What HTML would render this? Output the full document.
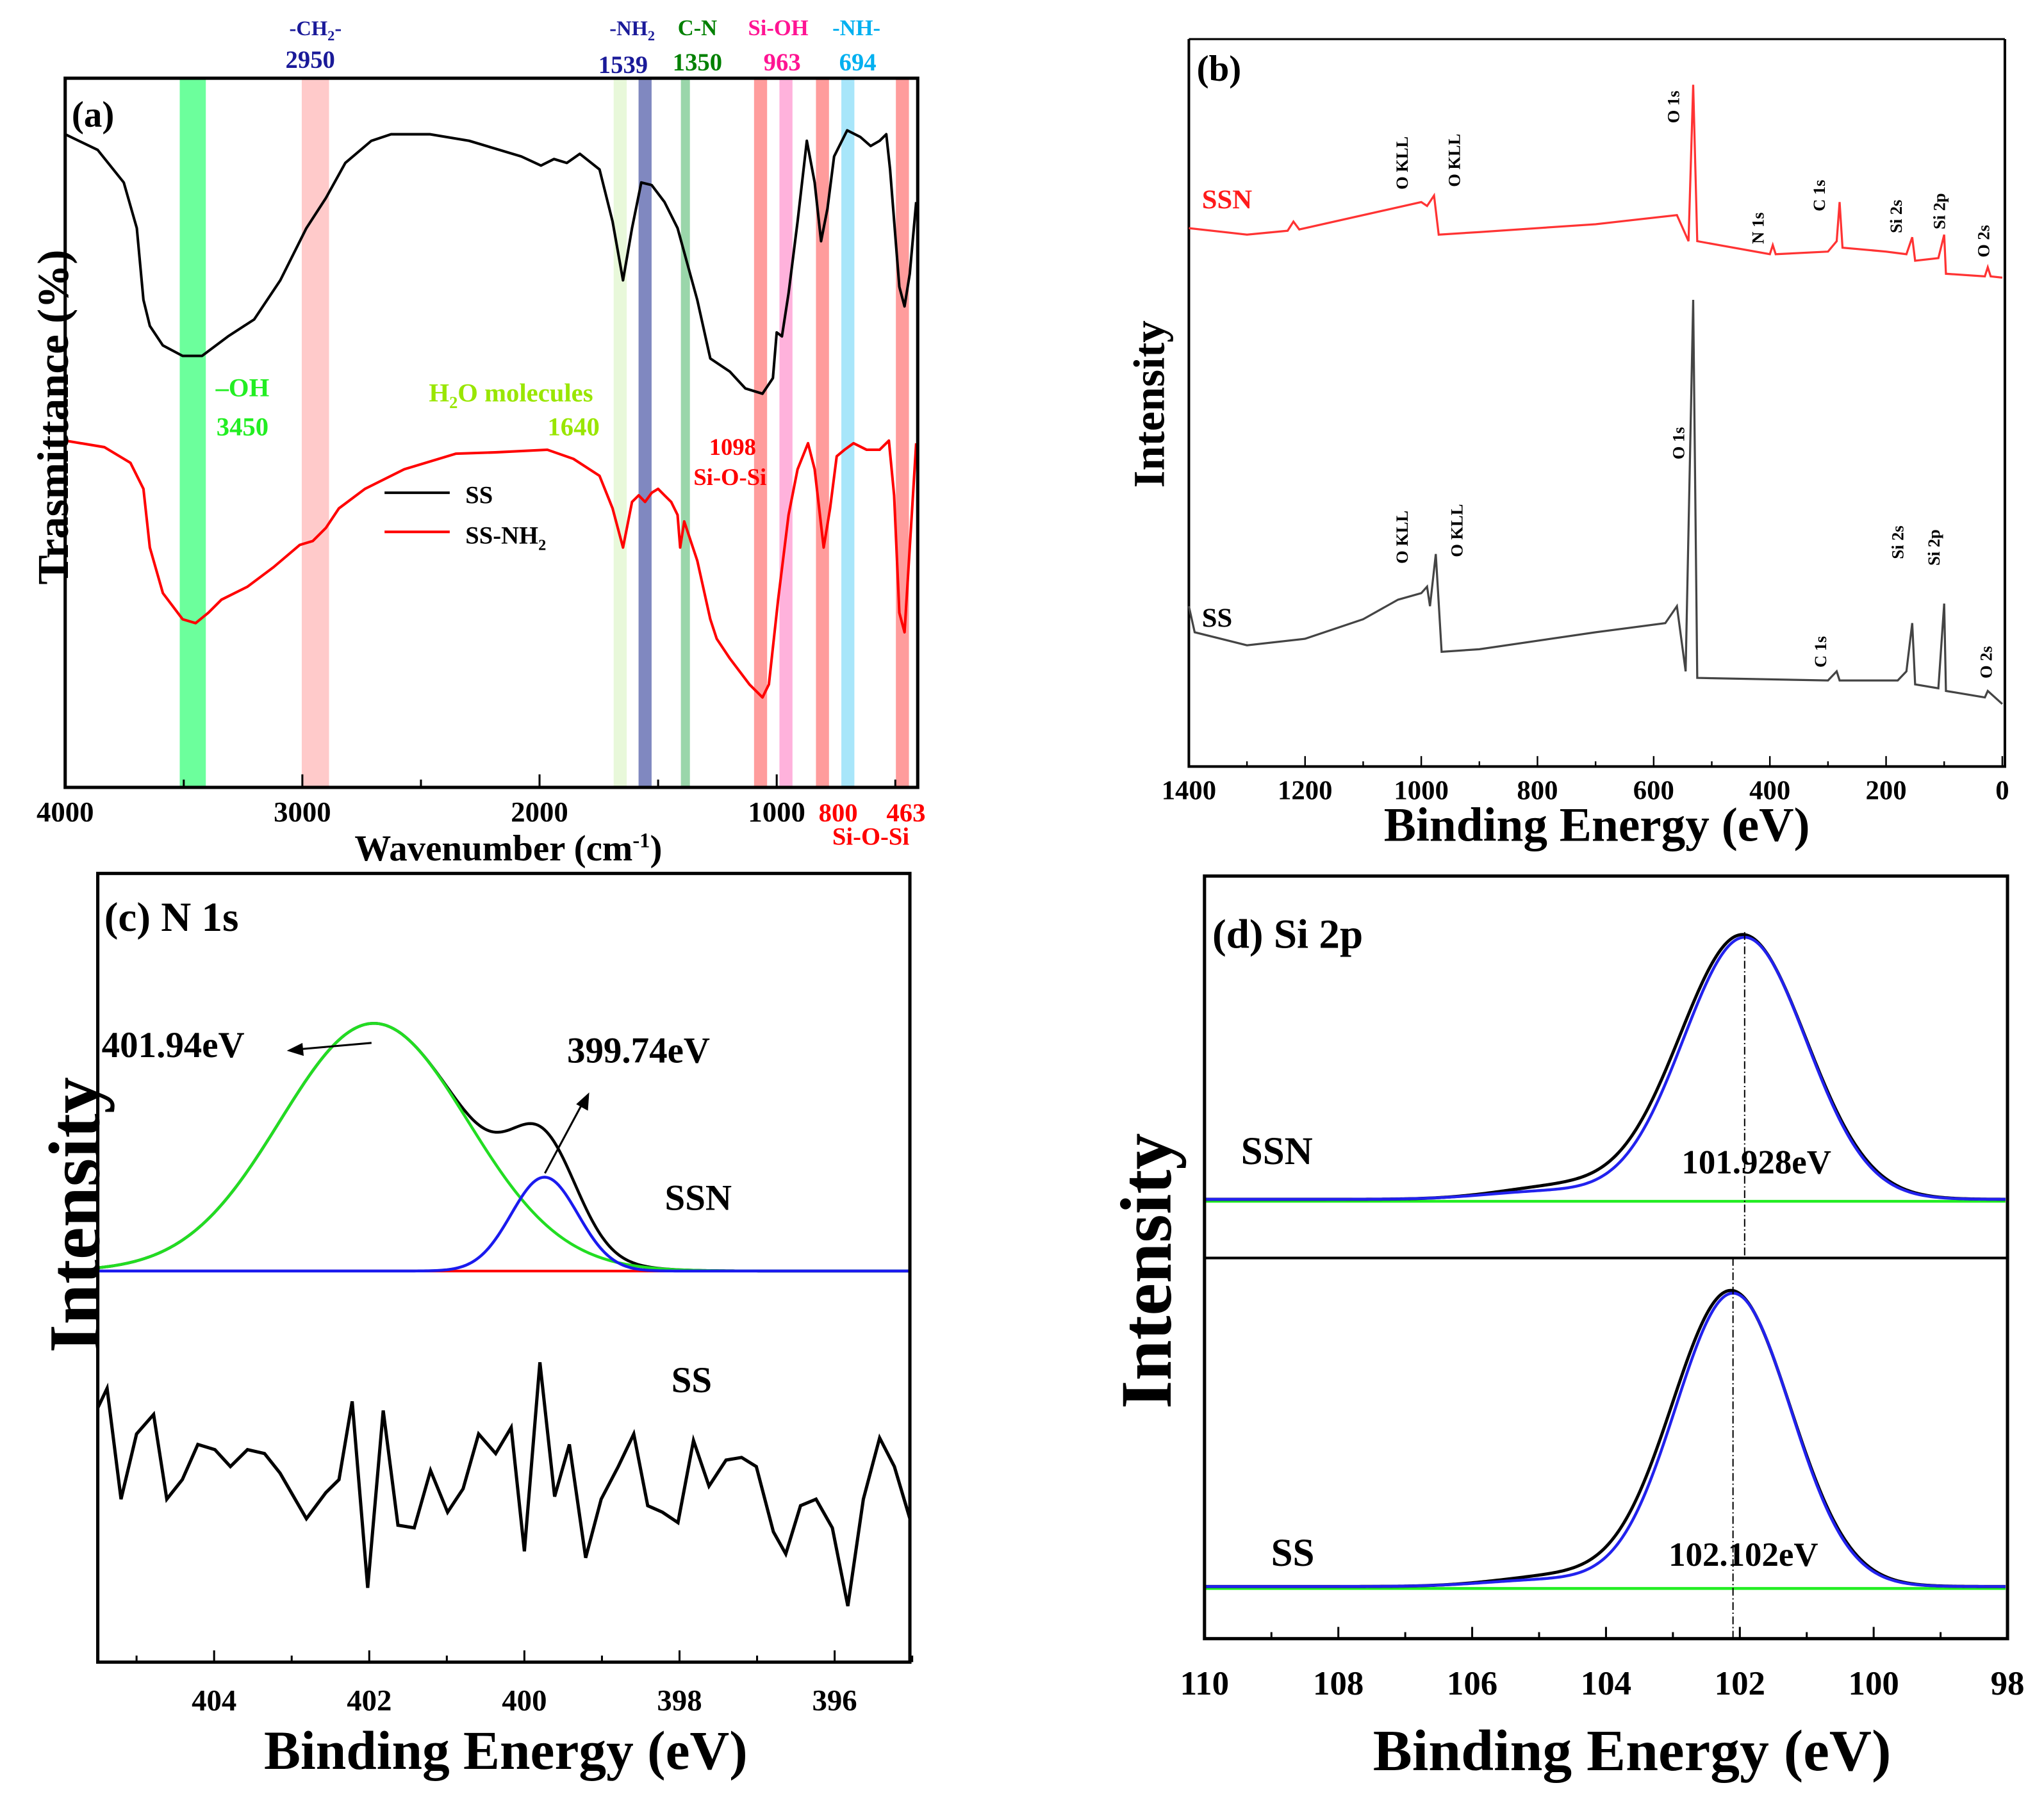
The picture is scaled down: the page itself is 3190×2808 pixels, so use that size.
<!DOCTYPE html>
<html><head><meta charset="utf-8"><style>
html,body{margin:0;padding:0;background:#fff}
svg{display:block}
text{font-family:"Liberation Serif",serif;font-weight:bold}
</style></head><body>
<svg id="fig" width="3190" height="2808" viewBox="0 0 1568 1380" preserveAspectRatio="none" xmlns="http://www.w3.org/2000/svg">
<g id="pa"></g>
<g id="pb"></g>
<g id="pc"></g>
<g id="pd"></g>
</svg>
<script>
// ---------- Panel (a) FTIR data ----------
const ftirTicks = [4000, 3000, 2000, 1000];
const ssWave = [4000,3863,3753,3698,3670,3643,3588,3505,3423,3313,3203,3093,2983,2901,2819,2709,2626,2461,2297,2077,1994,1939,1885,1830,1747,1692,1648,1610,1571,1527,1473,1418,1335,1280,1198,1132,1060,1016,1000,978,950,912,873,840,813,786,758,703,648,604,566,538,522,483,461,439,412];
const ssTrans = [501,489,464,429,374,354,339,331,331,346,359,389,429,452,479,496,501,501,496,484,477,482,479,486,474,434,389,429,464,462,449,429,374,329,319,306,302,314,349,346,379,434,496,464,419,444,484,504,499,492,496,501,474,384,369,394,449];
const ssnWave = [4000,3835,3725,3670,3643,3588,3505,3450,3396,3341,3231,3121,3011,2956,2901,2846,2736,2571,2352,2187,1967,1857,1747,1692,1648,1610,1582,1555,1527,1500,1473,1445,1418,1407,1390,1335,1280,1253,1198,1115,1060,1033,994,950,912,868,840,802,775,747,714,676,621,566,527,505,483,461,439,412];
const ssnTrans = [266,261,249,229,184,149,129,126,134,144,154,169,186,189,199,214,229,244,256,257,259,252,239,214,184,219,224,219,226,229,224,219,209,184,204,174,129,114,99,79,69,79,144,209,244,264,244,184,214,254,259,264,259,259,266,224,134,119,184,264];
const bandCenters = [3462,2945,1660,1555,1385,1068,961,807,700,470];
const bandWidths = [110,115,55,55,38,55,55,55,55,55];
const bandColors = ['#6cff9c','#ffcaca','#e8f8da','#8088c0','#9ad6aa','#ff9c9c','#ffb2dc','#ff9c9c','#a8e6fa','#ff9c9c'];

// ---------- Panel (b) survey data ----------
const surveyTicks = [1400,1200,1000,800,600,400,200,0];
const ssnE = [1400,1300,1230,1220,1210,1100,1000,990,978,970,900,700,560,540,532,525,400,395,390,300,285,280,275,200,165,155,150,110,100,97,30,25,20,0];
const ssnI = [425,420,423,430,424,435,445,442,450,420,422,428,435,415,535,415,405,412,405,407,415,445,410,407,405,418,400,402,420,390,388,395,388,387];
const ssE = [1400,1390,1300,1200,1100,1040,1000,990,985,975,965,900,700,580,560,545,532,525,300,285,280,180,165,155,150,110,100,97,30,25,0];
const ssI = [135,115,105,110,125,140,145,150,135,175,100,102,115,122,135,85,370,80,78,85,78,78,85,122,75,72,137,70,65,70,60];

// ---------- Panel (c) N 1s data ----------
const n1sTicks = [404,402,400,398,396];
const n1sCenters = [401.94, 399.74];
const n1sAmps = [190, 72];
const n1sSigmas = [1.21, 0.43];
const ssN1sE = [405.50,405.38,405.20,405.00,404.78,404.61,404.41,404.21,403.99,403.79,403.57,403.35,403.15,402.81,402.56,402.39,402.22,402.02,401.82,401.63,401.42,401.21,400.99,400.79,400.59,400.37,400.17,400.00,399.80,399.61,399.42,399.21,399.01,398.79,398.59,398.41,398.22,398.02,397.82,397.62,397.40,397.20,397.01,396.79,396.63,396.44,396.24,396.03,395.83,395.63,395.42,395.23,395.03];
const ssN1sI = [170,185,100,150,165,100,115,142,138,125,138,135,120,85,105,115,175,32,168,80,78,122,90,108,150,135,155,60,205,102,142,55,100,125,150,95,90,82,145,110,130,132,125,75,58,95,100,78,18,100,147,125,85];

// ---------- Panel (d) Si 2p data ----------
const si2pTicks = [110,108,106,104,102,100,98];
const si2pCenters = [101.928, 102.102];
const si2pAmps = [201, 225];
const si2pSigmas = [0.92, 0.86];
const si2pTailAmps = [6, 5];

const NS='http://www.w3.org/2000/svg';
function mk(parent, tag, attrs, txt){const e=document.createElementNS(NS,tag);for(const k in attrs)e.setAttribute(k,attrs[k]);if(txt!==undefined)e.textContent=txt;parent.appendChild(e);return e;}
function lin(d0,d1,r0,r1){return v=>r0+(v-d0)/(d1-d0)*(r1-r0);}
function pathD(xs,ys,fx,fy){return xs.map((x,i)=>(i?'L':'M')+fx(x).toFixed(2)+' '+fy(ys[i]).toFixed(2)).join(' ');}
function gauss(x,c,a,s){return a*Math.exp(-0.5*((x-c)/s)**2);}

// ================= Panel A =================
(function(){
 const g=document.getElementById('pa');
 const X=lin(4000,400,50,705), Y=lin(0,544,604,60);
 bandCenters.forEach((c,i)=>{
  const r=mk(g,'rect',{x:X(c+bandWidths[i]/2),y:60,width:X(c-bandWidths[i]/2)-X(c+bandWidths[i]/2),height:544,fill:bandColors[i]});
  
  
 });
 const l1=mk(g,'path',{d:pathD(ssWave,ssTrans,X,Y),fill:'none',stroke:'#000','stroke-width':2,'stroke-linejoin':'round'});
 
 
 const l2=mk(g,'path',{d:pathD(ssnWave,ssnTrans,X,Y),fill:'none',stroke:'#ff0000','stroke-width':2,'stroke-linejoin':'round'});
 
 
 const fr=mk(g,'rect',{x:50,y:60,width:654,height:544,fill:'none',stroke:'#000','stroke-width':2.5});
 
 
 for(let w=4000;w>=500;w-=500){mk(g,'line',{x1:X(w),x2:X(w),y1:604,y2:w%1000?598:594,stroke:'#000','stroke-width':1.5});}
 ftirTicks.forEach(t=>{const e=mk(g,'text',{x:X(t),y:630,'font-size':22,'text-anchor':'middle'},t);
  
  });
})();
</script>
<script>
(function(){
 const g=document.getElementById('pa');
 const T=(x,y,s,fill,txt,name,anchor,extra)=>{const e=mk(g,'text',Object.assign({x:x,y:y,'font-size':s,fill:fill,'text-anchor':anchor||'middle'},extra||{}));e.innerHTML=txt;return e;};
 T(695,630,20,'#ff0000','463','tick-463');
 T(643,630,20,'#ff0000','800','tick-800');
 T(668,648,19,'#ff0000','Si-O-Si','label-si-o-si-bottom');
 T(390,660,28,'#000','Wavenumber (cm<tspan dy="-10" font-size="16">-1</tspan><tspan dy="10">)</tspan>','x-axis-title-a');
 T(42,320,34,'#000','Trasmittance (%)','y-axis-title-a','middle',{transform:'rotate(-90 42 320)',dy:'10'});
 T(55,97,28,'#000','(a)','panel-label-a','start');
 T(242,27,16,'#1a1a99','-CH<tspan dy="4" font-size="11">2</tspan><tspan dy="-4">-</tspan>','label-ch2');
 T(238,52,19,'#1a1a99','2950','label-2950');
 T(485,27,16,'#1a1a99','-NH<tspan dy="4" font-size="11">2</tspan>','label-nh2');
 T(478,56,19,'#1a1a99','1539','label-1539');
 T(535,27,17,'#008000','C-N','label-cn');
 T(535,54,19,'#008000','1350','label-1350');
 T(597,27,17,'#ff1493','Si-OH','label-sioh');
 T(600,54,19,'#ff1493','963','label-963');
 T(657,27,17,'#00b0f0','-NH-','label-nh');
 T(658,54,19,'#00b0f0','694','label-694');
 T(186,304,20,'#22ee22','–OH','label-oh');
 T(186,334,20,'#22ee22','3450','label-3450');
 T(392,308,20,'#99e600','H<tspan dy="5" font-size="13">2</tspan><tspan dy="-5">O molecules</tspan>','label-h2o');
 T(440,334,20,'#99e600','1640','label-1640');
 T(562,349,18,'#ff0000','1098','label-1098');
 T(560,372,18,'#ff0000','Si-O-Si','label-si-o-si');
 const a=mk(g,'line',{x1:295,x2:345,y1:378,y2:378,stroke:'#000','stroke-width':2});
 const b=mk(g,'line',{x1:295,x2:345,y1:408,y2:408,stroke:'#ff0000','stroke-width':2});
 T(357,386,19,'#000','SS','legend-ss','start');
 T(357,417,19,'#000','SS-NH<tspan dy="5" font-size="12">2</tspan>','legend-ssnh2','start');
})();

// ================= Panel B =================
(function(){
 const g=document.getElementById('pb');
 const X=lin(1400,0,912,1536), Y=lin(0,600,600,0);
 const f=mk(g,'path',{d:'M912 30 L912 588 L1538 588 L1538 30',fill:'none',stroke:'#000','stroke-width':2});
 
 mk(g,'line',{x1:912,x2:1538,y1:30,y2:30,stroke:'#000','stroke-width':1.5});
 for(let e=1400;e>=0;e-=100){mk(g,'line',{x1:X(e),x2:X(e),y1:588,y2:e%200?584:580,stroke:'#000','stroke-width':1.2});}
 const l1=mk(g,'path',{d:pathD(ssnE,ssnI,X,Y),fill:'none',stroke:'#ff3333','stroke-width':1.6});
 
 const l2=mk(g,'path',{d:pathD(ssE,ssI,X,Y),fill:'none',stroke:'#444','stroke-width':1.6});
 
 surveyTicks.forEach(t=>{const e=mk(g,'text',{x:X(t),y:613,'font-size':21,'text-anchor':'middle'},t);
  });
 const T=(x,y,s,fill,txt,name,anchor,extra)=>{const e=mk(g,'text',Object.assign({x:x,y:y,'font-size':s,fill:fill,'text-anchor':anchor||'middle'},extra||{}));e.innerHTML=txt;return e;};
 T(1225,645,37,'#000','Binding Energy (eV)','x-axis-title-b');
 T(893,310,34,'#000','Intensity','y-axis-title-b','middle',{transform:'rotate(-90 893 310)'});
 T(918,62,28,'#000','(b)','panel-label-b','start');
 T(922,160,21,'#ff1a1a','SSN','label-ssn-b','start');
 T(922,481,21,'#000','SS','label-ss-b','start');
 const R=(x,y,txt,name)=>T(x,y,13,'#000',txt,name,'middle',{transform:'rotate(-90 '+x+' '+y+')'});
 R(1080,125,'O KLL','peak-okll-1-ssn');R(1120,123,'O KLL','peak-okll-2-ssn');R(1288,82,'O 1s','peak-o1s-ssn');
 R(1353,175,'N 1s','peak-n1s-ssn');R(1400,150,'C 1s','peak-c1s-ssn');R(1459,166,'Si 2s','peak-si2s-ssn');
 R(1492,162,'Si 2p','peak-si2p-ssn');R(1526,185,'O 2s','peak-o2s-ssn');
 R(1080,412,'O KLL','peak-okll-1-ss');R(1122,407,'O KLL','peak-okll-2-ss');R(1292,340,'O 1s','peak-o1s-ss');
 R(1401,500,'C 1s','peak-c1s-ss');R(1460,416,'Si 2s','peak-si2s-ss');R(1488,420,'Si 2p','peak-si2p-ss');R(1528,508,'O 2s','peak-o2s-ss');
})();

// ================= Panel C =================
(function(){
 const g=document.getElementById('pc');
 const X=lin(405.5,395.03,75,698), Y=lin(0,190,975,785), Y2=lin(0,100,1250,1150);
 const es=[];for(let e=405.5;e>=395.03;e-=0.03)es.push(e);
 const comps=n1sCenters.map((c,i)=>es.map(e=>gauss(e,c,n1sAmps[i],n1sSigmas[i])));
 const env=es.map((e,j)=>comps[0][j]+comps[1][j]);
 const base=es.map(()=>0);
 const rb=mk(g,'path',{d:pathD(es,base,X,Y),fill:'none',stroke:'#ff0000','stroke-width':2});
 
 const ev=mk(g,'path',{d:pathD(es,env,X,Y),fill:'none',stroke:'#000','stroke-width':2.2});
 
 const c0=mk(g,'path',{d:pathD(es,comps[0],X,Y),fill:'none',stroke:'#22dd22','stroke-width':2.2});
 
 const c1=mk(g,'path',{d:pathD(es,comps[1],X,Y),fill:'none',stroke:'#1a1aee','stroke-width':2.2});
 
 const ss=mk(g,'path',{d:pathD(ssN1sE,ssN1sI,X,Y2),fill:'none',stroke:'#000','stroke-width':2.5});
 
 const f=mk(g,'rect',{x:75,y:670,width:623,height:605,fill:'none',stroke:'#000','stroke-width':2.5});
 
 for(let e=405;e>=395;e-=1){mk(g,'line',{x1:X(e),x2:X(e),y1:1275,y2:e%2?1270:1266,stroke:'#000','stroke-width':1.5});}
 n1sTicks.forEach(t=>{const e=mk(g,'text',{x:X(t),y:1312,'font-size':23,'text-anchor':'middle'},t);
  });
 const T=(x,y,s,fill,txt,name,anchor,extra)=>{const e=mk(g,'text',Object.assign({x:x,y:y,'font-size':s,fill:fill,'text-anchor':anchor||'middle'},extra||{}));e.innerHTML=txt;return e;};
 T(388,1357,42,'#000','Binding Energy (eV)','x-axis-title-c');
 T(60,932,56,'#000','Intensity','y-axis-title-c','middle',{transform:'rotate(-90 60 932)',dy:'16'});
 T(80,714,32,'#000','(c) N 1s','panel-label-c','start');
 T(78,811,28,'#000','401.94eV','label-401-94','start');
 T(435,815,28,'#000','399.74eV','label-399-74','start');
 T(510,928,28,'#000','SSN','label-ssn-c','start');
 T(515,1068,28,'#000','SS','label-ss-c','start');
 const a1=mk(g,'path',{d:'M285 800 L228 805',stroke:'#000','stroke-width':1.5,fill:'none'});
 mk(g,'path',{d:'M220 806 L232 800 L233 810 Z',fill:'#000'});
 const a2=mk(g,'path',{d:'M418 900 L447 846',stroke:'#000','stroke-width':1.5,fill:'none'});
 mk(g,'path',{d:'M452 838 L451 852 L442 847 Z',fill:'#000'});
})();

// ================= Panel D =================
(function(){
 const g=document.getElementById('pd');
 const X=lin(110,98,924,1540);
 const bases=[920,1217];
 const es=[];for(let e=110;e>=98;e-=0.03)es.push(e);
 si2pCenters.forEach((c,i)=>{
  const Y=lin(0,1,bases[i],bases[i]-1);
  const fit=es.map(e=>gauss(e,c,si2pAmps[i],si2pSigmas[i])+gauss(e,104.9,si2pTailAmps[i],0.9));
  const raw=es.map(e=>gauss(e,c+0.03,si2pAmps[i]+2,si2pSigmas[i]*1.03)+gauss(e,104.7,si2pTailAmps[i]*1.6,0.9));
  const b=es.map(()=>-1.5);
  const gl=mk(g,'path',{d:pathD(es,b,X,Y),fill:'none',stroke:'#22ee22','stroke-width':2.2});
  
  const bl=mk(g,'path',{d:pathD(es,raw,X,Y),fill:'none',stroke:'#000','stroke-width':2.4});
  
  const fl=mk(g,'path',{d:pathD(es,fit,X,Y),fill:'none',stroke:'#2222ee','stroke-width':2.2});
  
  const vx=X(c);
  const vl=mk(g,'line',{x1:vx,x2:vx,y1:i?965:715,y2:i?1257:965,stroke:'#000','stroke-width':1,'stroke-dasharray':'6 2 1 2'});
  
 });
 const f=mk(g,'rect',{x:924,y:672,width:616,height:585,fill:'none',stroke:'#000','stroke-width':2.5});
 
 mk(g,'line',{x1:924,x2:1540,y1:965,y2:965,stroke:'#000','stroke-width':2});
 for(let e=110;e>=98;e-=1){mk(g,'line',{x1:X(e),x2:X(e),y1:1257,y2:e%2?1252:1248,stroke:'#000','stroke-width':1.5});}
 si2pTicks.forEach(t=>{const e=mk(g,'text',{x:X(t),y:1300,'font-size':26,'text-anchor':'middle'},t);
  });
 const T=(x,y,s,fill,txt,name,anchor,extra)=>{const e=mk(g,'text',Object.assign({x:x,y:y,'font-size':s,fill:fill,'text-anchor':anchor||'middle'},extra||{}));e.innerHTML=txt;return e;};
 T(1252,1358,45,'#000','Binding Energy (eV)','x-axis-title-d');
 T(882,975,56,'#000','Intensity','y-axis-title-d','middle',{transform:'rotate(-90 882 975)',dy:'16'});
 T(930,727,32,'#000','(d) Si 2p','panel-label-d','start');
 T(952,893,30,'#000','SSN','label-ssn-d','start');
 T(975,1201,30,'#000','SS','label-ss-d','start');
 T(1290,900,26,'#000','101.928eV','label-101-928','start');
 T(1280,1201,26,'#000','102.102eV','label-102-102','start');
})();
</script>
</body></html>
